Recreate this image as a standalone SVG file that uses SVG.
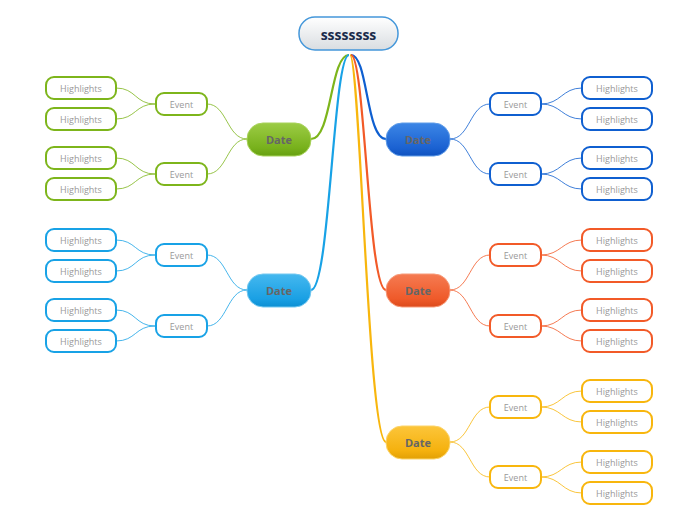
<svg xmlns="http://www.w3.org/2000/svg" width="696" height="520" viewBox="0 0 696 520">
<style>
.t{font-family:"Open Sans","Liberation Sans",sans-serif;text-anchor:middle;dominant-baseline:central}
.hl{font-size:9px;fill:#999}
.dt{font-size:11px;font-weight:bold;fill:#666}
.box{fill:#fff;stroke-width:2}
.g{stroke:#7db51b}.b{stroke:#0f5fd0}.lb{stroke:#18a2e6}.r{stroke:#f25a28}.y{stroke:#f8b60d}
.c{fill:none;stroke-width:1}
.m{fill:none;stroke-width:2.2}
</style>
<defs>
<linearGradient id="gr" x1="0" y1="0" x2="0" y2="1"><stop offset="0" stop-color="#9ccc45"/><stop offset="0.75" stop-color="#78b11c"/><stop offset="1" stop-color="#66a011"/></linearGradient>
<linearGradient id="bl" x1="0" y1="0" x2="0" y2="1"><stop offset="0" stop-color="#3c86e6"/><stop offset="0.75" stop-color="#1b62d2"/><stop offset="1" stop-color="#0f52bf"/></linearGradient>
<linearGradient id="lbl" x1="0" y1="0" x2="0" y2="1"><stop offset="0" stop-color="#45b8ef"/><stop offset="0.75" stop-color="#1aa0e4"/><stop offset="1" stop-color="#0c8fd3"/></linearGradient>
<linearGradient id="rd" x1="0" y1="0" x2="0" y2="1"><stop offset="0" stop-color="#f57b52"/><stop offset="0.75" stop-color="#ef5a2a"/><stop offset="1" stop-color="#dc4a1b"/></linearGradient>
<linearGradient id="yl" x1="0" y1="0" x2="0" y2="1"><stop offset="0" stop-color="#fcc53a"/><stop offset="0.75" stop-color="#f5b10e"/><stop offset="1" stop-color="#e2a005"/></linearGradient>
<linearGradient id="rt" x1="0" y1="0" x2="0" y2="1"><stop offset="0" stop-color="#ffffff"/><stop offset="1" stop-color="#d9dde1"/></linearGradient>
</defs>
<g id="connectors">
<path class="m g" d="M349,55 C330,55 332,139 311,139"/>
<path class="m lb" d="M349,55 C333,55 330,290 311,290"/>
<path class="m b" d="M351,55 C368,55 366,139 386,139"/>
<path class="m y" d="M350,55 C360,55 368,442 386,442"/>
<path class="m r" d="M351,55 C365,55 368,290 386,290"/>
<g stroke-opacity="0.8">
<path class="c g" d="M247,139 C227,139 227,104 207,104 M247,139 C227,139 227,174 207,174"/>
<path class="c g" d="M155,104 C135,104 136,88 116,88 M155,104 C135,104 136,119 116,119 M155,174 C135,174 136,158 116,158 M155,174 C135,174 136,189 116,189"/>
<path class="c lb" d="M247,290 C227,290 227,255 207,255 M247,290 C227,290 227,326 207,326"/>
<path class="c lb" d="M155,255 C135,255 136,240 116,240 M155,255 C135,255 136,271 116,271 M155,326 C135,326 136,310 116,310 M155,326 C135,326 136,341 116,341"/>
<path class="c b" d="M450,139 C470,139 470,104 490,104 M450,139 C470,139 470,174 490,174"/>
<path class="c b" d="M541,104 C561,104 562,88 582,88 M541,104 C561,104 562,119 582,119 M541,174 C561,174 562,158 582,158 M541,174 C561,174 562,189 582,189"/>
<path class="c r" d="M450,290 C470,290 470,255 490,255 M450,290 C470,290 470,326 490,326"/>
<path class="c r" d="M541,255 C561,255 562,240 582,240 M541,255 C561,255 562,271 582,271 M541,326 C561,326 562,310 582,310 M541,326 C561,326 562,341 582,341"/>
<path class="c y" d="M450,442 C470,442 470,407 490,407 M450,442 C470,442 470,477 490,477"/>
<path class="c y" d="M541,407 C561,407 562,391 582,391 M541,407 C561,407 562,422 582,422 M541,477 C561,477 562,462 582,462 M541,477 C561,477 562,493 582,493"/>
</g>
</g>
<g id="root"><rect x="299" y="17" width="99" height="33" rx="16" fill="url(#rt)" stroke="#4497da" stroke-width="1.5"/><text class="t" x="348.5" y="34" font-size="14" font-weight="bold" fill="#1a2a4a">ssssssss</text></g>
<g id="date-green"><rect x="247" y="123" width="64" height="33" rx="16" fill="url(#gr)" stroke="#a8d25a" stroke-width="1"/><text class="t dt" x="279" y="139.5">Date</text></g>
<g id="date-blue"><rect x="386" y="123" width="64" height="33" rx="16" fill="url(#bl)" stroke="#5f9ce8" stroke-width="1"/><text class="t dt" x="418" y="139.5" fill="#555">Date</text></g>
<g id="date-lightblue"><rect x="247" y="274" width="64" height="33" rx="16" fill="url(#lbl)" stroke="#74c8f0" stroke-width="1"/><text class="t dt" x="279" y="290.5">Date</text></g>
<g id="date-red"><rect x="386" y="274" width="64" height="33" rx="16" fill="url(#rd)" stroke="#f79b7a" stroke-width="1"/><text class="t dt" x="418" y="290.5">Date</text></g>
<g id="date-yellow"><rect x="386" y="426" width="64" height="33" rx="16" fill="url(#yl)" stroke="#fcd46a" stroke-width="1"/><text class="t dt" x="418" y="442.5">Date</text></g>

<g id="ev-g1"><rect class="box g" x="156" y="93" width="51" height="22" rx="8"/><text class="t hl" x="181.5" y="104">Event</text></g>
<g id="ev-g2"><rect class="box g" x="156" y="163" width="51" height="22" rx="8"/><text class="t hl" x="181.5" y="174">Event</text></g>
<g id="ev-lb1"><rect class="box lb" x="156" y="244" width="51" height="22" rx="8"/><text class="t hl" x="181.5" y="255">Event</text></g>
<g id="ev-lb2"><rect class="box lb" x="156" y="315" width="51" height="22" rx="8"/><text class="t hl" x="181.5" y="326">Event</text></g>
<g id="ev-b1"><rect class="box b" x="490" y="93" width="51" height="22" rx="8"/><text class="t hl" x="515.5" y="104">Event</text></g>
<g id="ev-b2"><rect class="box b" x="490" y="163" width="51" height="22" rx="8"/><text class="t hl" x="515.5" y="174">Event</text></g>
<g id="ev-r1"><rect class="box r" x="490" y="244" width="51" height="22" rx="8"/><text class="t hl" x="515.5" y="255">Event</text></g>
<g id="ev-r2"><rect class="box r" x="490" y="315" width="51" height="22" rx="8"/><text class="t hl" x="515.5" y="326">Event</text></g>
<g id="ev-y1"><rect class="box y" x="490" y="396" width="51" height="22" rx="8"/><text class="t hl" x="515.5" y="407">Event</text></g>
<g id="ev-y2"><rect class="box y" x="490" y="466" width="51" height="22" rx="8"/><text class="t hl" x="515.5" y="477">Event</text></g>

<g id="hl-g1"><rect class="box g" x="46" y="77" width="70" height="22" rx="8"/><text class="t hl" x="81" y="88">Highlights</text></g>
<g id="hl-g2"><rect class="box g" x="46" y="108" width="70" height="22" rx="8"/><text class="t hl" x="81" y="119">Highlights</text></g>
<g id="hl-g3"><rect class="box g" x="46" y="147" width="70" height="22" rx="8"/><text class="t hl" x="81" y="158">Highlights</text></g>
<g id="hl-g4"><rect class="box g" x="46" y="178" width="70" height="22" rx="8"/><text class="t hl" x="81" y="189">Highlights</text></g>
<g id="hl-lb1"><rect class="box lb" x="46" y="229" width="70" height="22" rx="8"/><text class="t hl" x="81" y="240">Highlights</text></g>
<g id="hl-lb2"><rect class="box lb" x="46" y="260" width="70" height="22" rx="8"/><text class="t hl" x="81" y="271">Highlights</text></g>
<g id="hl-lb3"><rect class="box lb" x="46" y="299" width="70" height="22" rx="8"/><text class="t hl" x="81" y="310">Highlights</text></g>
<g id="hl-lb4"><rect class="box lb" x="46" y="330" width="70" height="22" rx="8"/><text class="t hl" x="81" y="341">Highlights</text></g>
<g id="hl-b1"><rect class="box b" x="582" y="77" width="70" height="22" rx="8"/><text class="t hl" x="617" y="88">Highlights</text></g>
<g id="hl-b2"><rect class="box b" x="582" y="108" width="70" height="22" rx="8"/><text class="t hl" x="617" y="119">Highlights</text></g>
<g id="hl-b3"><rect class="box b" x="582" y="147" width="70" height="22" rx="8"/><text class="t hl" x="617" y="158">Highlights</text></g>
<g id="hl-b4"><rect class="box b" x="582" y="178" width="70" height="22" rx="8"/><text class="t hl" x="617" y="189">Highlights</text></g>
<g id="hl-r1"><rect class="box r" x="582" y="229" width="70" height="22" rx="8"/><text class="t hl" x="617" y="240">Highlights</text></g>
<g id="hl-r2"><rect class="box r" x="582" y="260" width="70" height="22" rx="8"/><text class="t hl" x="617" y="271">Highlights</text></g>
<g id="hl-r3"><rect class="box r" x="582" y="299" width="70" height="22" rx="8"/><text class="t hl" x="617" y="310">Highlights</text></g>
<g id="hl-r4"><rect class="box r" x="582" y="330" width="70" height="22" rx="8"/><text class="t hl" x="617" y="341">Highlights</text></g>
<g id="hl-y1"><rect class="box y" x="582" y="380" width="70" height="22" rx="8"/><text class="t hl" x="617" y="391">Highlights</text></g>
<g id="hl-y2"><rect class="box y" x="582" y="411" width="70" height="22" rx="8"/><text class="t hl" x="617" y="422">Highlights</text></g>
<g id="hl-y3"><rect class="box y" x="582" y="451" width="70" height="22" rx="8"/><text class="t hl" x="617" y="462">Highlights</text></g>
<g id="hl-y4"><rect class="box y" x="582" y="482" width="70" height="22" rx="8"/><text class="t hl" x="617" y="493">Highlights</text></g>
</svg>
